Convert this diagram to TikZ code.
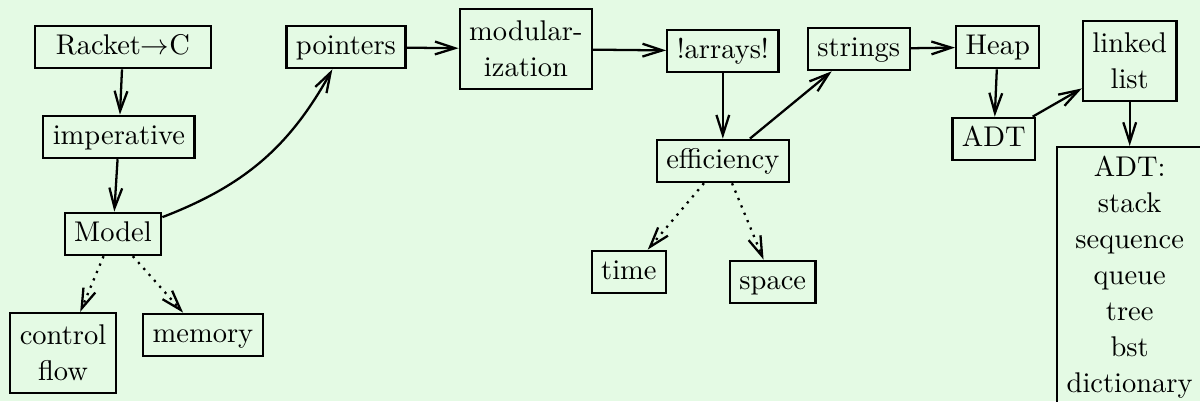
\documentclass[tikz,border=0pt]{standalone}
\usetikzlibrary{arrows.meta}
\definecolor{bgmint}{RGB}{228,250,228}
\begin{document}
\begin{tikzpicture}[thick,>={Straight Barb[length=7pt,width=4.5pt]},
topic/.style={draw,rectangle,text height=1.6ex,text depth=.3ex},
bigtopic/.style={draw,rectangle,align=center,minimum height=28pt,font=\linespread{1.05}\selectfont}]

\fill[bgmint] (0,0) rectangle (14.8,-4.95);
\useasboundingbox (0,0) rectangle (14.8,-4.95);

\draw (1.517,-0.580) node[topic,minimum width=62pt] (racket) {Racket$\rightarrow$C};
\draw (1.467,-1.689) node[topic] (imper) {imperative};
\draw (1.393,-2.885) node[topic] (model) {Model};
\draw (0.777,-4.353) node[bigtopic] (ctrl) {control\\flow};
\draw (2.503,-4.131) node[topic] (memory) {memory};
\draw (4.266,-0.580) node[topic] (pointers) {pointers};
\draw (6.486,-0.604) node[bigtopic] (modular) {modular-\\ization};
\draw (8.915,-0.629) node[topic] (arrays) {!arrays!};
\draw (8.915,-1.985) node[topic] (effic) {efficiency};
\draw (7.756,-3.354) node[topic] (time) {time};
\draw (9.531,-3.477) node[topic] (space) {space};
\draw (10.592,-0.604) node[topic] (strings) {strings};
\draw (12.306,-0.580) node[topic] (heap) {Heap};
\draw (12.257,-1.714) node[topic] (adt) {ADT};
\draw (13.933,-0.752) node[bigtopic] (linked) {linked\\list};
\draw (13.933,-1.800) node[bigtopic,anchor=north] (adtlist) {ADT:\\stack\\sequence\\queue\\tree\\bst\\dictionary};

\draw[->] (racket) -- (imper);
\draw[->] (imper) -- (model);
\draw[->] (model) to[bend right=20] (pointers);
\draw[->] (pointers) -- (modular);
\draw[->] (modular) -- (arrays);
\draw[->] (arrays) -- (effic);
\draw[->] (effic) -- (strings);
\draw[->] (strings) -- (heap);
\draw[->] (heap) -- (adt);
\draw[->] (adt) -- (linked);
\draw[->] (linked) -- (adtlist);
\draw[->,dotted] (model) -- (ctrl);
\draw[->,dotted] (model) -- (memory);
\draw[->,dotted] (effic) -- (time);
\draw[->,dotted] (effic) -- (space);
\end{tikzpicture}
\end{document}
